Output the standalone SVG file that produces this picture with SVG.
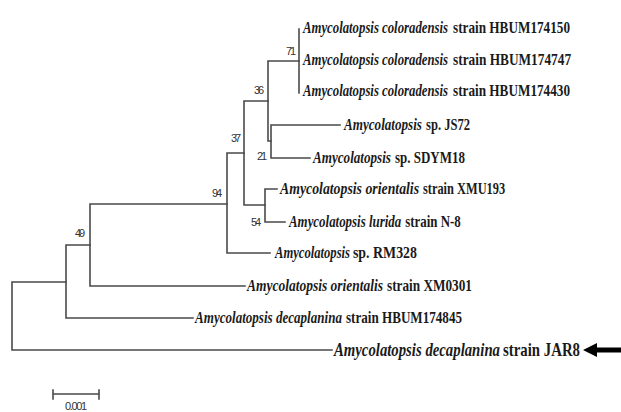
<svg xmlns="http://www.w3.org/2000/svg" width="621" height="412" viewBox="0 0 621 412">
<style>
.br{fill:none;stroke:#4a4a4a;stroke-width:1.6;stroke-linecap:square}
.leaf{font-family:"Liberation Serif",serif;font-size:17px;font-weight:bold;fill:#1a1a1a}
.sp{font-style:italic}
.bs{font-family:"Liberation Sans",sans-serif;font-size:11px;fill:#333;text-anchor:middle}
</style>
<rect width="621" height="412" fill="#ffffff"/>
<g id="connectors" class="br">
<path d="M12,282 V350 M12,350 H332 M12,282 H66"/>
<path d="M66,245 V318 M66,318 H193 M66,245 H90"/>
<path d="M90,204 V286 M90,286 H245 M90,204 H227"/>
<path d="M227,153 V253 M227,253 H270 M227,153 H244"/>
<path d="M244,101 V205 M244,101 H268 M244,205 H265"/>
<path d="M265,189 V222 M265,189 H277 M265,222 H285"/>
<path d="M268,61 V141 M268,61 H299 M268,141 H271"/>
<path d="M271,125 V158 M271,125 H340 M271,158 H310"/>
<path d="M299,29 V93"/>
<path d="M53,394 H99 M53,390 V399 M99,390 V399"/>
</g>
<g id="leaf-HBUM174150" transform="translate(303,33) scale(0.76,1)"><text class="leaf sp" x="0" y="0" textLength="190.8" lengthAdjust="spacingAndGlyphs">Amycolatopsis coloradensis</text><text class="leaf" x="197.4" y="0" textLength="153.9" lengthAdjust="spacingAndGlyphs">strain HBUM174150</text></g>
<g id="leaf-HBUM174747" transform="translate(303,65) scale(0.76,1)"><text class="leaf sp" x="0" y="0" textLength="190.8" lengthAdjust="spacingAndGlyphs">Amycolatopsis coloradensis</text><text class="leaf" x="197.4" y="0" textLength="155.3" lengthAdjust="spacingAndGlyphs">strain HBUM174747</text></g>
<g id="leaf-HBUM174430" transform="translate(303,96) scale(0.76,1)"><text class="leaf sp" x="0" y="0" textLength="190.8" lengthAdjust="spacingAndGlyphs">Amycolatopsis coloradensis</text><text class="leaf" x="197.4" y="0" textLength="153.9" lengthAdjust="spacingAndGlyphs">strain HBUM174430</text></g>
<g id="leaf-JS72" transform="translate(344,130) scale(0.76,1)"><text class="leaf sp" x="0" y="0" textLength="102.6" lengthAdjust="spacingAndGlyphs">Amycolatopsis</text><text class="leaf" x="107.9" y="0" textLength="57.9" lengthAdjust="spacingAndGlyphs">sp. JS72</text></g>
<g id="leaf-SDYM18" transform="translate(313,163) scale(0.76,1)"><text class="leaf sp" x="0" y="0" textLength="102.6" lengthAdjust="spacingAndGlyphs">Amycolatopsis</text><text class="leaf" x="107.9" y="0" textLength="92.1" lengthAdjust="spacingAndGlyphs">sp. SDYM18</text></g>
<g id="leaf-XMU193" transform="translate(280,194) scale(0.76,1)"><text class="leaf sp" x="0" y="0" textLength="183" lengthAdjust="spacingAndGlyphs">Amycolatopsis orientalis</text><text class="leaf" x="188.2" y="0" textLength="108" lengthAdjust="spacingAndGlyphs">strain XMU193</text></g>
<g id="leaf-N8" transform="translate(289,227) scale(0.76,1)"><text class="leaf sp" x="0" y="0">Amycolatopsis lurida</text><text class="leaf" x="153" y="0">strain N-8</text></g>
<g id="leaf-RM328" transform="translate(275,258) scale(0.76,1)"><text class="leaf sp" x="0" y="0" textLength="98.7" lengthAdjust="spacingAndGlyphs">Amycolatopsis</text><text class="leaf" x="102.6" y="0" textLength="84.2" lengthAdjust="spacingAndGlyphs">sp. RM328</text></g>
<g id="leaf-XM0301" transform="translate(247,291) scale(0.76,1)"><text class="leaf sp" x="0" y="0" textLength="178.9" lengthAdjust="spacingAndGlyphs">Amycolatopsis orientalis</text><text class="leaf" x="184.2" y="0" textLength="111.8" lengthAdjust="spacingAndGlyphs">strain XM0301</text></g>
<g id="leaf-HBUM174845" transform="translate(195,323) scale(0.76,1)"><text class="leaf sp" x="0" y="0" textLength="193.4" lengthAdjust="spacingAndGlyphs">Amycolatopsis decaplanina</text><text class="leaf" x="198.7" y="0" textLength="152.6" lengthAdjust="spacingAndGlyphs">strain HBUM174845</text></g>
<g id="leaf-JAR8"><g transform="translate(334,356) scale(0.8,1)"><text class="leaf sp" x="0" y="0" style="font-size:18px" textLength="207.5" lengthAdjust="spacingAndGlyphs">Amycolatopsis decaplanina</text><text class="leaf" x="211.3" y="0" style="font-size:18px" textLength="96.2" lengthAdjust="spacingAndGlyphs">strain JAR8</text></g>
<polygon points="583,350 597,343 597,347.5 621,347.5 621,352.5 597,352.5 597,357" fill="#000"/></g>
<g id="node-71"><text class="bs" x="291" y="55" textLength="10">71</text></g>
<g id="node-36"><text class="bs" x="259" y="94" textLength="10">36</text></g>
<g id="node-37"><text class="bs" x="236" y="142" textLength="10">37</text></g>
<g id="node-21"><text class="bs" x="262" y="160" textLength="10">21</text></g>
<g id="node-94"><text class="bs" x="217" y="197" textLength="10">94</text></g>
<g id="node-54"><text class="bs" x="256" y="226" textLength="10">54</text></g>
<g id="node-49"><text class="bs" x="80" y="237" textLength="10">49</text></g>
<g id="scale"><text class="bs" x="76" y="410" textLength="22">0.001</text></g>
</svg>
